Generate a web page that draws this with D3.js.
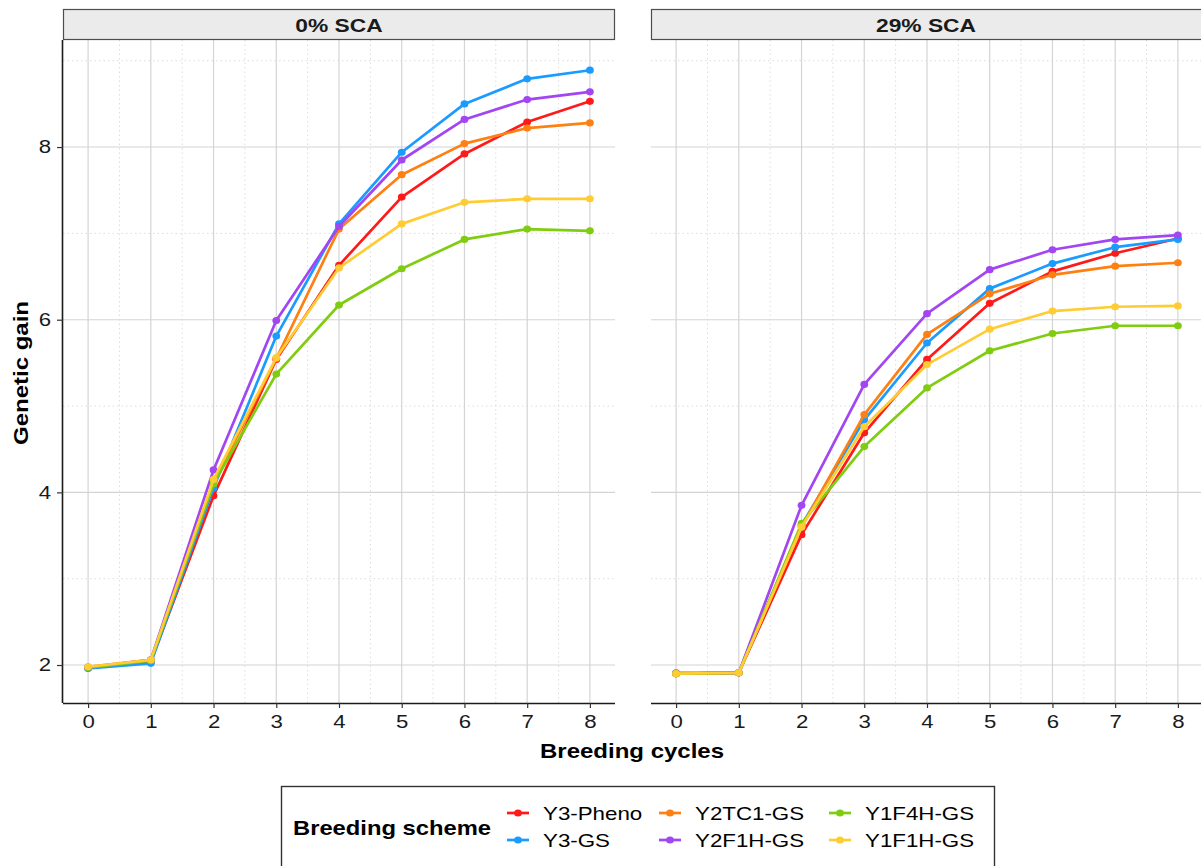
<!DOCTYPE html>
<html><head><meta charset="utf-8">
<script src="https://cdn.jsdelivr.net/npm/d3@7"></script>
<style>body{margin:0;background:#fff;}svg{display:block;font-family:"Liberation Sans",Arial,sans-serif;}</style>
</head><body>
<svg id="c" width="1201" height="866"></svg>
<script>
const cycles = [0,1,2,3,4,5,6,7,8];
const schemes = ["Y3-Pheno","Y3-GS","Y2TC1-GS","Y2F1H-GS","Y1F4H-GS","Y1F1H-GS"];
const colors = ["#FF1A1A","#1A9BFF","#FF8012","#A146F2","#80CC11","#FFCC33"];
const panels = ["0% SCA","29% SCA"];
const yTicks = [2,4,6,8];

// 0% SCA
const sca0_Y3Pheno = [1.97,2.04,3.96,5.54,6.63,7.42,7.92,8.29,8.53];
const sca0_Y3GS    = [1.96,2.02,4.05,5.81,7.11,7.94,8.50,8.79,8.89];
const sca0_Y2TC1GS = [1.98,2.06,4.10,5.55,7.05,7.68,8.04,8.22,8.28];
const sca0_Y2F1HGS = [1.97,2.06,4.26,5.99,7.08,7.85,8.32,8.55,8.64];
const sca0_Y1F4HGS = [1.97,2.05,4.10,5.37,6.17,6.59,6.93,7.05,7.03];
const sca0_Y1F1HGS = [1.98,2.06,4.15,5.56,6.60,7.11,7.36,7.40,7.40];
// 29% SCA
const sca29_Y3Pheno = [1.90,1.91,3.51,4.69,5.54,6.19,6.56,6.77,6.94];
const sca29_Y3GS    = [1.90,1.91,3.62,4.84,5.73,6.36,6.65,6.84,6.93];
const sca29_Y2TC1GS = [1.90,1.91,3.60,4.90,5.83,6.30,6.52,6.62,6.66];
const sca29_Y2F1HGS = [1.91,1.91,3.85,5.25,6.07,6.58,6.81,6.93,6.98];
const sca29_Y1F4HGS = [1.90,1.91,3.64,4.53,5.21,5.64,5.84,5.93,5.93];
const sca29_Y1F1HGS = [1.90,1.91,3.60,4.76,5.48,5.89,6.10,6.15,6.16];

const panelData = [
  [sca0_Y3Pheno,sca0_Y3GS,sca0_Y2TC1GS,sca0_Y2F1HGS,sca0_Y1F4HGS,sca0_Y1F1HGS],
  [sca29_Y3Pheno,sca29_Y3GS,sca29_Y2TC1GS,sca29_Y2F1HGS,sca29_Y1F4HGS,sca29_Y1F1HGS]
];

const SX = 1.2; // horizontal text stretch of the reference rendering
const svg = d3.select("#c");
const plotTop = 40, plotBottom = 703;
const panelX = [[63,615],[651,1203]];
const y = d3.scaleLinear().domain([1.56,9.24]).range([plotBottom, plotTop]);

function addText(parent, x, yy, str, size, weight, anchor) {
  return parent.append("text")
    .attr("transform", `translate(${x},${yy}) scale(${SX},1)`)
    .attr("text-anchor", anchor || "start")
    .attr("font-size", size).attr("font-weight", weight || "normal")
    .attr("fill", "#000").text(str);
}

panels.forEach((name, pi) => {
  const [px0, px1] = panelX[pi];
  const x = d3.scaleLinear().domain([-0.4,8.4]).range([px0, px1]);
  const g = svg.append("g");
  const xMinor = d3.range(-0.5, 8.6, 1).filter(v=>v>-0.4 && v<8.4);
  const yMinor = [3,5,7,9];
  g.selectAll(".xm").data(xMinor).join("line")
    .attr("x1",d=>x(d)).attr("x2",d=>x(d)).attr("y1",plotTop).attr("y2",plotBottom)
    .attr("stroke","#dcdcdc").attr("stroke-width",1).attr("stroke-dasharray","1.5,3");
  g.selectAll(".ym").data(yMinor).join("line")
    .attr("x1",px0).attr("x2",px1).attr("y1",d=>y(d)).attr("y2",d=>y(d))
    .attr("stroke","#dcdcdc").attr("stroke-width",1).attr("stroke-dasharray","1.5,3");
  g.selectAll(".xM").data(cycles).join("line")
    .attr("x1",d=>x(d)).attr("x2",d=>x(d)).attr("y1",plotTop).attr("y2",plotBottom)
    .attr("stroke","#d4d4d4").attr("stroke-width",1.2);
  g.selectAll(".yM").data(yTicks).join("line")
    .attr("x1",px0).attr("x2",px1).attr("y1",d=>y(d)).attr("y2",d=>y(d))
    .attr("stroke","#d4d4d4").attr("stroke-width",1.1);

  svg.append("rect").attr("x",px0+0.5).attr("y",9.5).attr("width",px1-px0-1).attr("height",30)
    .attr("fill","#ebebeb").attr("stroke","#4d4d4d").attr("stroke-width",1.2);
  addText(svg, (px0+px1)/2 - (pi===1?1:0), 32, name, 19, "bold", "middle").attr("fill","#1a1a1a");

  const xa = svg.append("g").attr("transform",`translate(0,${plotBottom})`)
    .call(d3.axisBottom(x).tickValues(cycles).tickSize(5).tickPadding(7).tickFormat(d3.format("d")));
  xa.select(".domain").attr("d",`M${px0},0.5H${px1}`).attr("stroke","#1a1a1a").attr("stroke-width",1.6);
  xa.selectAll(".tick line").attr("stroke","#333").attr("stroke-width",1.2);
  xa.selectAll("text").attr("font-size",18.5).attr("fill","#1a1a1a")
    .attr("font-family","Liberation Sans, Arial, sans-serif").attr("transform",`scale(${SX},1)`);

  if (pi === 0) {
    const ya = svg.append("g").attr("transform",`translate(${px0},0)`)
      .call(d3.axisLeft(y).tickValues(yTicks).tickSize(6).tickPadding(6));
    ya.select(".domain").attr("d",`M-0.5,${plotTop}V${plotBottom}`).attr("stroke","#1a1a1a").attr("stroke-width",1.6);
    ya.selectAll(".tick line").attr("stroke","#333").attr("stroke-width",1.2);
    ya.selectAll("text").attr("font-size",18.5).attr("fill","#1a1a1a")
      .attr("font-family","Liberation Sans, Arial, sans-serif")
      .attr("x", -12/SX).attr("transform",`scale(${SX},1)`);
  }

  const line = d3.line().x((d,i)=>x(cycles[i])).y(d=>y(d));
  panelData[pi].forEach((vals, si) => {
    g.append("path").datum(vals).attr("d",line).attr("fill","none")
      .attr("stroke",colors[si]).attr("stroke-width",2.7).attr("stroke-linejoin","round");
    g.selectAll(null).data(vals).join("ellipse")
      .attr("cx",(d,i)=>x(cycles[i])).attr("cy",d=>y(d)).attr("rx",3.9).attr("ry",3.6).attr("fill",colors[si]);
  });
});

addText(svg, 632, 758, "Breeding cycles", 20, "bold", "middle");
svg.append("text").attr("transform",`translate(28,373) rotate(-90) scale(${SX},1)`).attr("text-anchor","middle")
  .attr("font-size",20).attr("font-weight","bold").attr("fill","#000").text("Genetic gain");

const lg = svg.append("g");
lg.append("rect").attr("x",281.5).attr("y",786.5).attr("width",713).attr("height",100)
  .attr("fill","#fff").attr("stroke","#333").attr("stroke-width",1.4);
addText(lg, 293, 835, "Breeding scheme", 19.8, "bold", "start");
const colX = [507,659,829];
const rowY = [813,840];
schemes.forEach((s, i) => {
  const c = Math.floor(i/2), r = i%2;
  const kx = colX[c], ky = rowY[r];
  lg.append("line").attr("x1",kx).attr("x2",kx+22).attr("y1",ky).attr("y2",ky)
    .attr("stroke",colors[i]).attr("stroke-width",2.7);
  lg.append("ellipse").attr("cx",kx+11).attr("cy",ky).attr("rx",3.9).attr("ry",3.6).attr("fill",colors[i]);
  addText(lg, kx+36, ky+7, s, 18.6, "normal", "start");
});
</script>
</body></html>
